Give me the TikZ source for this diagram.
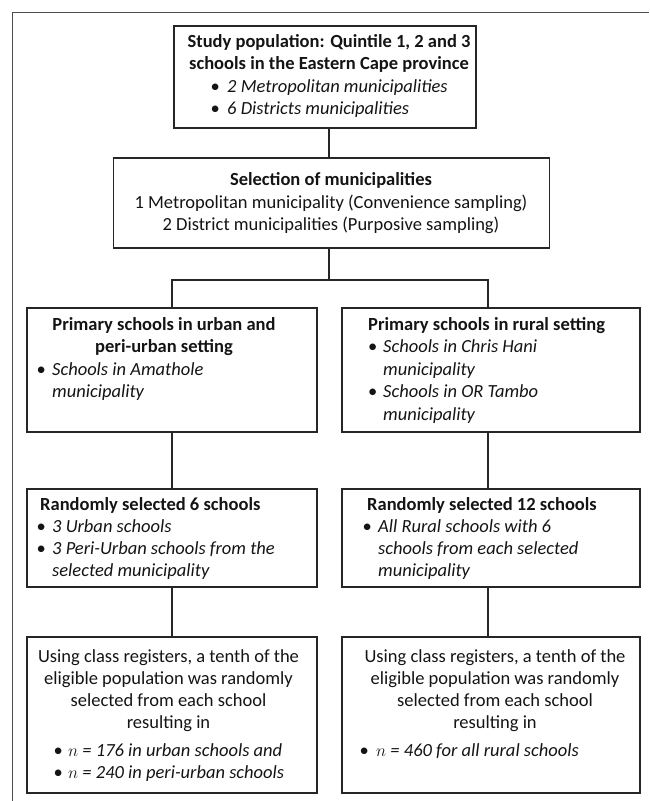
\documentclass[tikz,border=0pt]{standalone}
\usepackage{fontspec}
\setmainfont{Carlito}
\newcommand\mybul[1]{\makebox[0pt][c]{\textbullet}\hspace*{#1pt}}
\begin{document}
\begin{tikzpicture}[x=1pt,y=-1pt,
  box/.style={draw=black!85, line width=1.3pt, inner sep=0pt},
  conn/.style={draw=black!85, line width=1.1pt},
  frame/.style={draw=black!70, line width=1pt},
  tx/.style={inner sep=0pt, font=\fontsize{18.5}{22.5}\selectfont, text=black!92},
  tc/.style={tx, anchor=base},
  tl/.style={tx, anchor=base west}]
\useasboundingbox (0,0) rectangle (649,801);
% frame
\draw[frame] (12,801) -- (12,12) -- (649,12);
% boxes
\node[box, minimum width=302pt, minimum height=102pt] (b1) at (325,77) {};
\node[box, minimum width=436pt, minimum height=90pt] (b2) at (331.5,203) {};
\node[box, minimum width=290pt, minimum height=124pt] (r1l) at (172,370) {};
\node[box, minimum width=298pt, minimum height=124pt] (r1r) at (491,370) {};
\node[box, minimum width=290pt, minimum height=98pt] (r2l) at (172,538) {};
\node[box, minimum width=298pt, minimum height=98pt] (r2r) at (491,538) {};
\node[box, minimum width=290pt, minimum height=156pt] (r3l) at (172,715) {};
\node[box, minimum width=298pt, minimum height=156pt] (r3r) at (491,715) {};
% connector coordinates
\coordinate (cc) at (329,280);
\coordinate (cl) at (172,280);
\coordinate (cr) at (488,280);
\draw[conn] (b1.south -| cc) -- (b2.north -| cc);
\draw[conn] (b2.south -| cc) -- (cc);
\draw[conn] (r1l.north -| cl) -- (cl) -- (cr) -- (r1r.north -| cr);
\draw[conn] (r1l.south -| cl) -- (r2l.north -| cl);
\draw[conn] (r1r.south -| cr) -- (r2r.north -| cr);
\draw[conn] (r2l.south -| cl) -- (r3l.north -| cl);
\draw[conn] (r2r.south -| cr) -- (r3r.north -| cr);
% box 1 text
\node[tc] (t1a) at (329,47) {\bfseries Study population: Quintile 1, 2 and 3};
\node[tc] (t1b) at (329,69.5) {\bfseries schools in the Eastern Cape province};
\node[tl] (t1c) at (215,92) {\mybul{12}\itshape 2 Metropolitan municipalities};
\node[tl] (t1d) at (215,114.5) {\mybul{12}\itshape 6 Districts municipalities};
% box 2 text
\node[tc] (t2a) at (331,185.5) {\bfseries Selection of municipalities};
\node[tc] (t2b) at (331,208) {1 Metropolitan municipality (Convenience sampling)};
\node[tc] (t2c) at (331,230.5) {2 District municipalities (Purposive sampling)};
% row 1 left
\node[tc] (t3a) at (164,330) {\bfseries Primary schools in urban and};
\node[tc] (t3b) at (164,352.5) {\bfseries peri-urban setting};
\node[tl] (t3c) at (41,375) {\mybul{11}\itshape Schools in Amathole};
\node[tl] (t3d) at (52,397.5) {\itshape municipality};
% row 1 right
\node[tl] (t4a) at (368,330) {\bfseries Primary schools in rural setting};
\node[tl] (t4b) at (372.5,352.5) {\mybul{10.5}\itshape Schools in Chris Hani};
\node[tl] (t4c) at (383,375) {\itshape municipality};
\node[tl] (t4d) at (372.5,397.5) {\mybul{10.5}\itshape Schools in OR Tambo};
\node[tl] (t4e) at (383,420) {\itshape municipality};
% row 2 left
\node[tl] (t5a) at (40,510) {\bfseries Randomly selected 6 schools};
\node[tl] (t5b) at (41,532) {\mybul{11}\itshape 3 Urban schools};
\node[tl] (t5c) at (41,554) {\mybul{11}\itshape 3 Peri-Urban schools from the};
\node[tl] (t5d) at (52,576) {\itshape selected municipality};
% row 2 right
\node[tl] (t6a) at (367,510) {\bfseries Randomly selected 12 schools};
\node[tl] (t6b) at (367,532) {\mybul{11}\itshape All Rural schools with 6};
\node[tl] (t6c) at (378,554) {\itshape schools from each selected};
\node[tl] (t6d) at (378,576) {\itshape municipality};
% row 3 left
\node[tc] (t7a) at (168.5,662) {Using class registers, a tenth of the};
\node[tc] (t7b) at (168.5,684) {eligible population was randomly};
\node[tc] (t7c) at (168.5,706) {selected from each school};
\node[tc] (t7d) at (168.5,728) {resulting in};
\node[tl] (t7e) at (58,756) {\mybul{10}\itshape $n$ = 176 in urban schools and};
\node[tl] (t7f) at (58,778) {\mybul{10}\itshape $n$ = 240 in peri-urban schools};
% row 3 right
\node[tc] (t8a) at (495,662) {Using class registers, a tenth of the};
\node[tc] (t8b) at (495,684) {eligible population was randomly};
\node[tc] (t8c) at (495,706) {selected from each school};
\node[tc] (t8d) at (495,728) {resulting in};
\node[tl] (t8e) at (364,756) {\mybul{12}\itshape $n$ = 460 for all rural schools};
\end{tikzpicture}
\end{document}
